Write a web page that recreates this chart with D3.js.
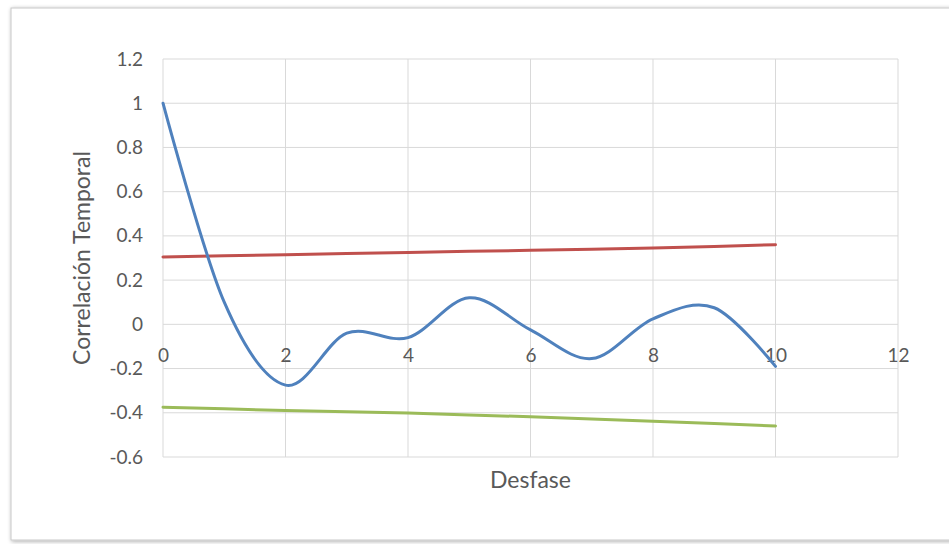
<!DOCTYPE html>
<html>
<head>
<meta charset="utf-8">
<script src="https://cdn.jsdelivr.net/npm/d3@7"></script>
<style>
  html, body { margin: 0; padding: 0; background: #ffffff; }
  svg { display: block; }
  text { font-family: Lato, "Open Sans", sans-serif; fill: #595959; }
</style>
</head>
<body>
<svg id="chart" width="949" height="544"></svg>
<script>
// Lags and autocorrelation values with upper / lower bounds
const lags = [0, 1, 2, 3, 4, 5, 6, 7, 8, 9, 10];
const correlation = [1.0, 0.1, -0.275, -0.04, -0.06, 0.12, -0.025, -0.155, 0.025, 0.075, -0.19];
const upperBound = [0.305, 0.31, 0.315, 0.32, 0.325, 0.33, 0.335, 0.34, 0.345, 0.352, 0.36];
const lowerBound = [-0.375, -0.382, -0.39, -0.395, -0.401, -0.41, -0.418, -0.428, -0.438, -0.448, -0.46];
const xTicks = [0, 2, 4, 6, 8, 10, 12];
const yTicks = [-0.6, -0.4, -0.2, 0, 0.2, 0.4, 0.6, 0.8, 1, 1.2];

const svg = d3.select("#chart");
const FONT = "Lato, 'Open Sans', sans-serif";

// Chart frame with soft shadow
const defs = svg.append("defs");
const f = defs.append("filter").attr("id", "shadow").attr("x", "-5%").attr("y", "-5%").attr("width", "110%").attr("height", "110%");
f.append("feGaussianBlur").attr("in", "SourceAlpha").attr("stdDeviation", 2);
f.append("feOffset").attr("dx", 1).attr("dy", 1).attr("result", "b");
f.append("feComponentTransfer").append("feFuncA").attr("type", "linear").attr("slope", 0.35);
const m = f.append("feMerge");
m.append("feMergeNode");
m.append("feMergeNode").attr("in", "SourceGraphic");

svg.append("rect")
  .attr("x", 11).attr("y", 8).attr("width", 960).attr("height", 532)
  .attr("fill", "#ffffff").attr("stroke", "#c8c8c8").attr("stroke-width", 1)
  .attr("filter", "url(#shadow)");

const x = d3.scaleLinear().domain([0, 12]).range([163, 898]);
const y = d3.scaleLinear().domain([-0.6, 1.2]).range([457, 59]);

// Gridlines
const grid = svg.append("g");
grid.selectAll("line.h").data(yTicks).join("line")
  .attr("x1", x(0)).attr("x2", x(12))
  .attr("y1", d => y(d)).attr("y2", d => y(d))
  .attr("stroke", "#d9d9d9").attr("stroke-width", 1);
grid.selectAll("line.v").data(xTicks).join("line")
  .attr("x1", d => x(d)).attr("x2", d => x(d))
  .attr("y1", y(1.2)).attr("y2", y(-0.6))
  .attr("stroke", "#d9d9d9").attr("stroke-width", 1);

// Y axis labels (plain hyphen for negatives)
const yAxis = d3.axisLeft(y).tickValues(yTicks).tickSize(0).tickPadding(0)
  .tickFormat(d => String(+d.toFixed(1)));
svg.append("g").attr("transform", `translate(${x(0) - 20},0)`).call(yAxis)
  .call(g => g.select(".domain").remove())
  .call(g => g.selectAll("text").attr("font-size", 19).attr("fill", "#595959")
    .style("font-family", FONT));

// X axis labels, placed below the zero line
const xAxis = d3.axisBottom(x).tickValues(xTicks).tickSize(0).tickPadding(0)
  .tickFormat(d => String(d));
svg.append("g").attr("transform", `translate(0,${y(0) + 24})`).call(xAxis)
  .call(g => g.select(".domain").remove())
  .call(g => g.selectAll("text").attr("font-size", 19).attr("fill", "#595959")
    .style("font-family", FONT));

// Axis titles
svg.append("text")
  .attr("x", x(6)).attr("y", 488)
  .attr("text-anchor", "middle").attr("font-size", 23)
  .text("Desfase");
svg.append("text")
  .attr("transform", `translate(90,${(y(1.2) + y(-0.6)) / 2}) rotate(-90)`)
  .attr("text-anchor", "middle").attr("font-size", 23)
  .text("Correlación Temporal");

// Series
const series = [
  { values: upperBound, color: "#c0504d", curve: d3.curveLinear },
  { values: lowerBound, color: "#9bbb59", curve: d3.curveLinear },
  { values: correlation, color: "#4f81bd", curve: d3.curveCatmullRom.alpha(0) }
];
series.forEach(s => {
  const line = d3.line()
    .x((d, i) => x(lags[i]))
    .y(d => y(d))
    .curve(s.curve);
  svg.append("path")
    .datum(s.values)
    .attr("d", line)
    .attr("fill", "none")
    .attr("stroke", s.color)
    .attr("stroke-width", 3)
    .attr("stroke-linecap", "round")
    .attr("stroke-linejoin", "round");
});
</script>
</body>
</html>
